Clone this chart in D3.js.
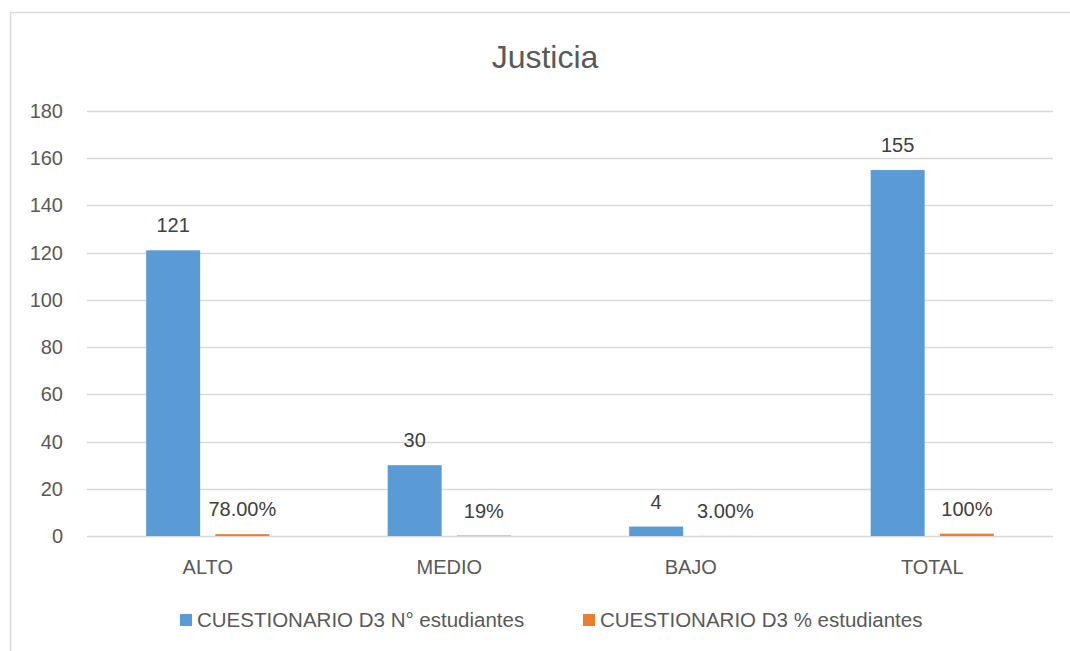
<!DOCTYPE html>
<html>
<head>
<meta charset="UTF-8">
<title>Justicia</title>
<script src="https://d3js.org/d3.v7.min.js"></script>
<style>
  body { margin: 0; background: #fff; }
  text { font-family: "Liberation Sans", Arial, sans-serif; fill: #595959; }
</style>
</head>
<body>
<svg id="chart" width="1070" height="651"></svg>
<script>
// chart data
const categories = ['ALTO', 'MEDIO', 'BAJO', 'TOTAL'];
const seriesNames = ['CUESTIONARIO D3 N° estudiantes', 'CUESTIONARIO D3 % estudiantes'];
const nEstudiantes = [121, 30, 4, 155];
const pctEstudiantes = [0.78, 0.19, 0.03, 1];
const pctLabels = ['78.00%', '19%', '3.00%', '100%'];
const yTicks = [0, 20, 40, 60, 80, 100, 120, 140, 160, 180];
const colors = ['#5b9bd5', '#ed7d31'];

const svg = d3.select('#chart');

// outer frame of the chart area (runs off the right/bottom edge)
svg.append('rect')
  .attr('x', 10.5).attr('y', 12.5)
  .attr('width', 1100).attr('height', 700)
  .attr('fill', 'none').attr('stroke', '#d9d9d9').attr('stroke-width', 1.5);

const margin = { left: 87, right: 1053, top: 111, bottom: 536 };

const x0 = d3.scaleBand().domain(categories).range([margin.left, margin.right]);
const groupW = x0.bandwidth() * 0.51;
const x1 = d3.scaleBand().domain([0, 1]).range([0, groupW]).paddingInner(0.22);
const y = d3.scaleLinear().domain([0, 180]).range([margin.bottom, margin.top]);

// gridlines
svg.append('g')
  .selectAll('line')
  .data(yTicks)
  .join('line')
  .attr('x1', margin.left).attr('x2', margin.right)
  .attr('y1', d => Math.round(y(d)) + 0.5).attr('y2', d => Math.round(y(d)) + 0.5)
  .attr('stroke', '#d9d9d9').attr('stroke-width', 1.5);

// y axis labels
svg.append('g')
  .selectAll('text')
  .data(yTicks)
  .join('text')
  .attr('x', 63).attr('y', d => y(d) + 7)
  .attr('text-anchor', 'end')
  .attr('font-size', 20)
  .text(d => d);

// bars
const rows = categories.map((c, i) => ({
  cat: c,
  vals: [
    { s: 0, v: nEstudiantes[i], label: String(nEstudiantes[i]) },
    { s: 1, v: pctEstudiantes[i], label: pctLabels[i] }
  ]
}));

const groups = svg.append('g')
  .selectAll('g')
  .data(rows)
  .join('g')
  .attr('transform', d => `translate(${x0(d.cat) + (x0.bandwidth() - groupW) / 2},0)`);

groups.selectAll('rect')
  .data(d => d.vals)
  .join('rect')
  .attr('x', d => x1(d.s))
  .attr('width', x1.bandwidth())
  .attr('y', d => y(d.v))
  .attr('height', d => y(0) - y(d.v))
  .attr('fill', d => colors[d.s]);

groups.selectAll('text')
  .data(d => d.vals)
  .join('text')
  .attr('x', d => x1(d.s) + x1.bandwidth() / 2)
  .attr('y', d => y(d.v) - 18)
  .attr('text-anchor', 'middle')
  .attr('font-size', 20)
  .style('fill', '#404040')
  .text(d => d.label);

// category labels
svg.append('g')
  .selectAll('text')
  .data(categories)
  .join('text')
  .attr('x', d => x0(d) + x0.bandwidth() / 2)
  .attr('y', 574)
  .attr('text-anchor', 'middle')
  .attr('font-size', 20)
  .text(d => d);

// title
svg.append('text')
  .attr('x', 545).attr('y', 68)
  .attr('text-anchor', 'middle')
  .attr('font-size', 32)
  .text('Justicia');

// legend
const legendX = [180, 583];
const legend = svg.append('g')
  .selectAll('g')
  .data(seriesNames)
  .join('g')
  .attr('transform', (d, i) => `translate(${legendX[i]},614)`);

legend.append('rect')
  .attr('width', 12).attr('height', 12)
  .attr('fill', (d, i) => colors[i]);

legend.append('text')
  .attr('x', 17).attr('y', 13)
  .attr('font-size', 20.5)
  .text(d => d);
</script>
</body>
</html>
